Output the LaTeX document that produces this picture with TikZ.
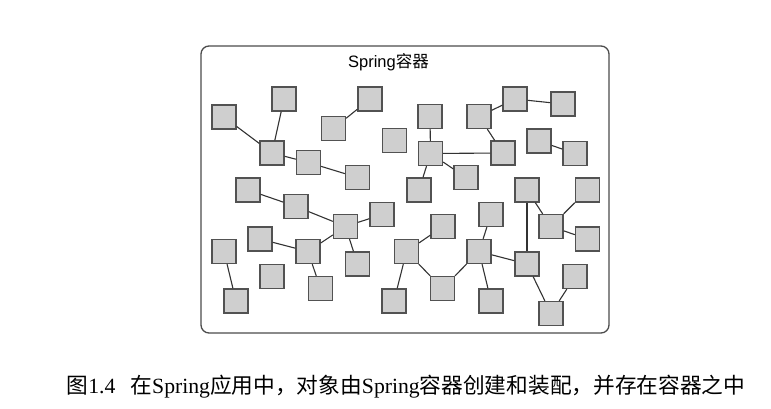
\documentclass[tikz,border=0pt]{standalone}
\usepackage{fontspec}
\setmainfont{Liberation Serif}
\setsansfont{Liberation Sans}
\newfontfamily\cjk{Noto Sans CJK SC}
\begin{document}
\begin{tikzpicture}[x=1pt,y=-1pt,
  box/.style={draw=black!68, fill=black!19, line width=1.3pt, minimum size=24pt, inner sep=0pt},
  link/.style={draw=black!80, line width=1.1pt},
  frame/.style={draw=black!70, line width=1.3pt, rounded corners=8pt}]
\useasboundingbox (0,0) rectangle (771,409);
\draw[frame] (201,46) rectangle (609,333);
\node (title) at (388.5,62) {\fontsize{16.5pt}{18pt}\selectfont\sffamily Spring{\cjk 容器}};
% boxes
\node[box] (A) at (224,117) {};
\node[box] (B) at (284,99) {};
\node[box] (C) at (272,153) {};
\node[box] (D) at (308.5,162.5) {};
\node[box] (E) at (357.5,177.5) {};
\node[box] (F) at (333.5,128.5) {};
\node[box] (G) at (370,99) {};
\node[box] (H) at (394.5,140.5) {};
\node[box] (I) at (430,116.5) {};
\node[box] (J) at (430.5,153.5) {};
\node[box] (K) at (479,116.5) {};
\node[box] (L) at (515,99) {};
\node[box] (M) at (563,104) {};
\node[box] (N) at (503,153) {};
\node[box] (O) at (539,141) {};
\node[box] (P) at (575,153.5) {};
\node[box] (Q) at (466,177.5) {};
\node[box] (R) at (419,190) {};
\node[box] (S) at (248,190) {};
\node[box] (T) at (296,206.5) {};
\node[box] (U) at (345.5,226.5) {};
\node[box] (V) at (382,214.5) {};
\node[box] (W) at (260,239) {};
\node[box] (X) at (308,251.5) {};
\node[box] (Y) at (224,251.5) {};
\node[box] (Z) at (357.5,264) {};
\node[box] (AA) at (272,276.5) {};
\node[box] (AB) at (320.5,288.5) {};
\node[box] (AC) at (236,301) {};
\node[box] (AD) at (443,226.5) {};
\node[box] (AE) at (406.5,251.5) {};
\node[box] (AF) at (491,214.5) {};
\node[box] (AG) at (479,251.5) {};
\node[box] (AH) at (442.5,288.5) {};
\node[box] (AI) at (491,301) {};
\node[box] (AJ) at (394,301) {};
\node[box] (AK) at (527,190) {};
\node[box] (AL) at (587.5,190) {};
\node[box] (AM) at (551,226.5) {};
\node[box] (AN) at (587.5,239) {};
\node[box] (AO) at (527,264) {};
\node[box] (AP) at (575,276.5) {};
\node[box] (AQ) at (551,313.5) {};
% links
\draw[link] (A) -- (C);
\draw[link] (B) -- (C);
\draw[link] (C) -- (D);
\draw[link] (D) -- (E);
\draw[link] (F) -- (G);
\draw[link] (I) -- (J);
\draw[link] (J) -- (N);
\draw[link] (K) -- (L);
\draw[link] (K) -- (N);
\draw[link] (L) -- (M);
\draw[link] (O) -- (P);
\draw[link] (J) -- (Q);
\draw[link] (J) -- (R);
\draw[link] (S) -- (T);
\draw[link] (T) -- (U);
\draw[link] (U) -- (V);
\draw[link] (W) -- (X);
\draw[link] (X) -- (U);
\draw[link] (U) -- (Z);
\draw[link] (X) -- (AB);
\draw[link] (Y) -- (AC);
\draw[link] (AE) -- (AD);
\draw[link] (AE) -- (AJ);
\draw[link] (AE) -- (AH);
\draw[link] (AH) -- (AG);
\draw[link] (AG) -- (AF);
\draw[link] (AG) -- (AI);
\draw[link] (AG) -- (AO);
\draw[link] (AK) -- (AO);
\draw[link] (AK) -- (AM);
\draw[link] (AM) -- (AL);
\draw[link] (AM) -- (AN);
\draw[link] (AO) -- (AQ);
\draw[link] (AP) -- (AQ);
% caption
\node (cap) at (406,387) {\fontsize{21.7pt}{24pt}\selectfont{\cjk 图}1.4\hspace{15pt}{\cjk 在}Spring{\cjk 应用中，对象由}Spring{\cjk 容器创建和装配，并存在容器之中}};
\end{tikzpicture}
\end{document}
